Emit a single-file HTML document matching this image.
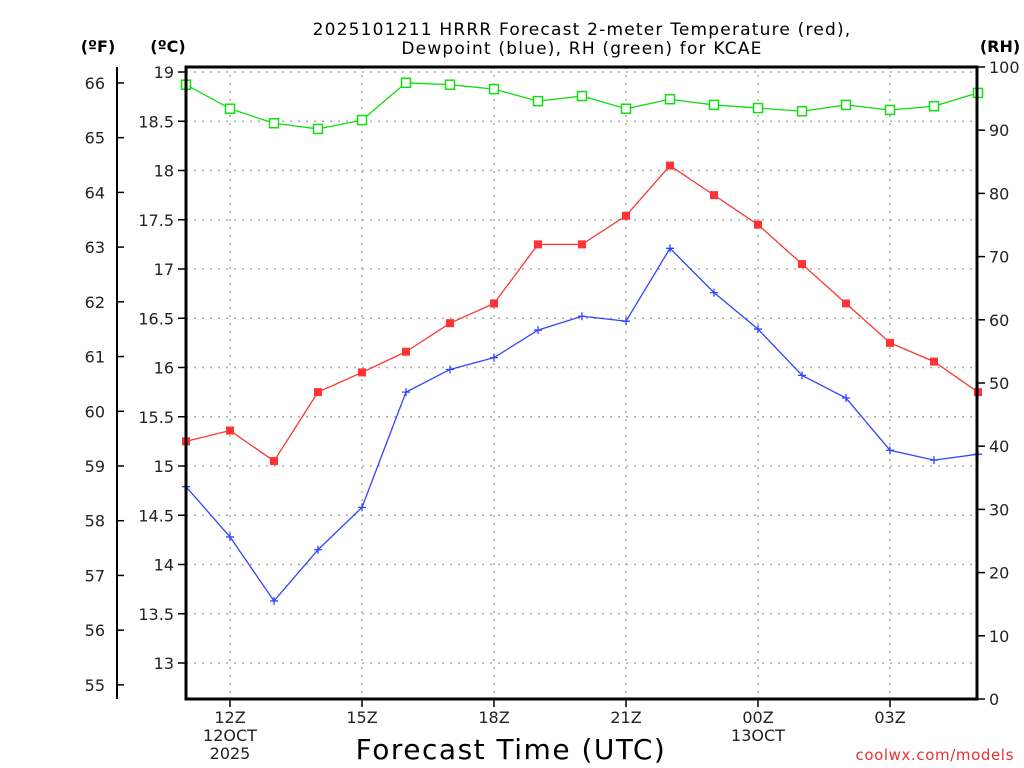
<!DOCTYPE html>
<html><head><meta charset="utf-8"><style>
body{margin:0;background:#fff}
svg{display:block;font-family:"DejaVu Sans","Liberation Sans",sans-serif}
</style></head><body>
<svg id="chart" width="1024" height="768" xmlns="http://www.w3.org/2000/svg">
<rect width="1024" height="768" fill="#fff"/>
<text x="582" y="35" font-size="17" letter-spacing="1.2" text-anchor="middle">2025101211 HRRR Forecast 2-meter Temperature (red),</text>
<text x="582" y="54" font-size="17" letter-spacing="1.2" text-anchor="middle">Dewpoint (blue), RH (green) for KCAE</text>
<text x="98" y="52" font-size="16" font-weight="bold" text-anchor="middle">(ºF)</text>
<text x="168" y="52" font-size="16" font-weight="bold" text-anchor="middle">(ºC)</text>
<text x="1000" y="52" font-size="16" font-weight="bold" text-anchor="middle">(RH)</text>
<text x="511" y="759" font-size="28" letter-spacing="1.5" text-anchor="middle">Forecast Time (UTC)</text>
<text x="1014" y="760" font-size="15" letter-spacing="0.6" fill="#e83030" text-anchor="end">coolwx.com/models</text>
<g id="grid"></g><g id="axes"></g><g id="series"></g>
<rect x="186" y="67" width="791" height="632" fill="none" stroke="#000" stroke-width="3"/>
</svg>
<script>
const hours=[11,12,13,14,15,16,17,18,19,20,21,22,23,24,25,26,27,28,29];
const tempC=[15.25,15.36,15.05,15.75,15.95,16.16,16.45,16.65,17.25,17.25,17.54,18.05,17.75,17.45,17.05,16.65,16.25,16.06,15.75];
const dewC=[14.79,14.28,13.63,14.15,14.58,15.75,15.98,16.10,16.38,16.52,16.47,17.21,16.76,16.39,15.92,15.69,15.16,15.06,15.12];
const rh=[97.2,93.4,91.1,90.2,91.6,97.5,97.2,96.5,94.6,95.4,93.4,94.9,94.0,93.5,93.0,94.0,93.2,93.8,95.9];
const cTicks=[13,13.5,14,14.5,15,15.5,16,16.5,17,17.5,18,18.5,19];
const fTicks=[55,56,57,58,59,60,61,62,63,64,65,66];
const rhTicks=[0,10,20,30,40,50,60,70,80,90,100];
const xTickHours=[12,15,18,21,24,27];
const xTickLabels=[["12Z","12OCT","2025"],["15Z"],["18Z"],["21Z"],["00Z","13OCT"],["03Z"]];
const NS="http://www.w3.org/2000/svg";
const X=h=>186+(h-11)*44;
const YC=c=>72+(19-c)*98.5;
const YF=f=>YC((f-32)/1.8);
const YR=r=>699-r*6.32;
function mk(tag,attrs,parent,txt){const e=document.createElementNS(NS,tag);for(const k in attrs)e.setAttribute(k,attrs[k]);if(txt!==undefined)e.textContent=txt;parent.appendChild(e);return e;}
const grid=document.getElementById('grid'),axes=document.getElementById('axes'),ser=document.getElementById('series');
cTicks.forEach(c=>{const y=YC(c);
 const g=mk('line',{x1:186,x2:977,y1:y,y2:y,stroke:'#aaa','stroke-dasharray':'2,6','stroke-width':1.5},grid);
 
 
 mk('line',{x1:178,x2:186,y1:y,y2:y,stroke:'#000','stroke-width':1.5},axes);
 const t=mk('text',{x:174,y:y+6,'font-size':16,'text-anchor':'end',fill:'#222'},axes,String(c));
 
 
});
mk('line',{x1:117,x2:117,y1:67,y2:699,stroke:'#000','stroke-width':2},axes);
fTicks.forEach(f=>{const y=YF(f);
 mk('line',{x1:117,x2:124,y1:y,y2:y,stroke:'#000','stroke-width':1.5},axes);
 const t=mk('text',{x:105,y:y+6,'font-size':16,'text-anchor':'end',fill:'#222'},axes,String(f));
 
 
});
rhTicks.forEach(r=>{const y=YR(r);
 mk('line',{x1:977,x2:985,y1:y,y2:y,stroke:'#000','stroke-width':1.5},axes);
 const t=mk('text',{x:989,y:y+6,'font-size':16,fill:'#222'},axes,String(r));
 
 
});
xTickHours.forEach((h,i)=>{const x=X(h);
 const g=mk('line',{x1:x,x2:x,y1:67,y2:699,stroke:'#aaa','stroke-dasharray':'2,6','stroke-width':1.5},grid);
 
 
 mk('line',{x1:x,x2:x,y1:699,y2:707,stroke:'#000','stroke-width':1.5},axes);
 xTickLabels[i].forEach((s,j)=>{const t=mk('text',{x:x,y:723+j*18,'font-size':16,'text-anchor':'middle',fill:'#222'},axes,s);
  
  });
});
function series(vals,yf,color,marker,name){
 const pts=vals.map((v,i)=>[X(hours[i]),yf(v)]);
 const pl=mk('polyline',{points:pts.map(p=>p.join(',')).join(' '),fill:'none',stroke:color,'stroke-width':1.3},ser);
 
 
 pts.forEach(([x,y])=>{let m;
  if(marker==='fill'){m=mk('rect',{x:x-4,y:y-4,width:8,height:8,fill:color},ser);}
  else if(marker==='open'){m=mk('rect',{x:x-4.5,y:y-4.5,width:9,height:9,fill:'#fff',stroke:color,'stroke-width':1.5},ser);}
  else{m=mk('path',{d:`M${x-4},${y}H${x+4}M${x},${y-4}V${y+4}`,stroke:color,'stroke-width':1.3},ser);}
  
  
 });
}
series(rh,YR,'#11dd11','open','rh');
series(tempC,YC,'#ff3333','fill','temperature');
series(dewC,YC,'#3344ff','plus','dewpoint');
</script>
</body></html>
